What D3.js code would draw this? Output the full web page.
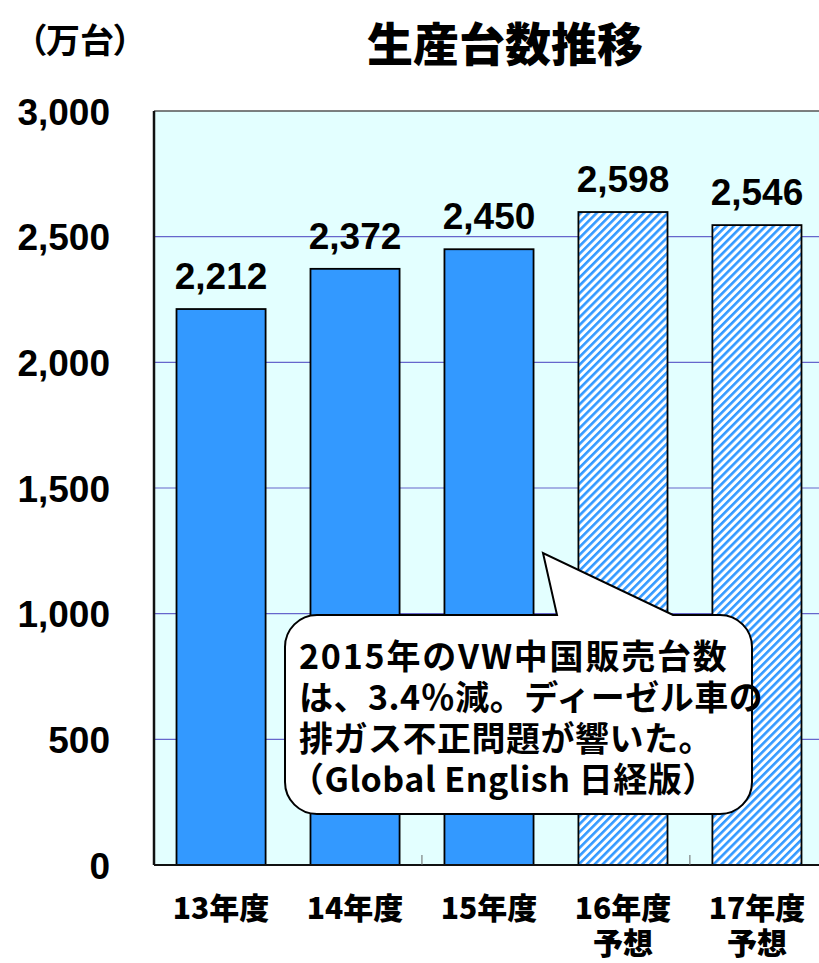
<!DOCTYPE html>
<html><head><meta charset="utf-8">
<script src="https://cdn.jsdelivr.net/npm/d3@7"></script>
<style>body{margin:0;background:#fff}svg{display:block}</style>
</head><body>
<script>
const categories = ["13年度", "14年度", "15年度", "16年度\n予想", "17年度\n予想"];
const values = [2212, 2372, 2450, 2598, 2546];
const forecast = [false, false, false, true, true];
const yTicks = [0, 500, 1000, 1500, 2000, 2500, 3000];
const title = "生産台数推移";
const unitLabel = "（万台）";
const calloutLines = ["2015年のVW中国販売台数", "は、3.4％減。ディーゼル車の", "排ガス不正問題が響いた。", "（Global English 日経版）"];

const W = 819, H = 963;
const m = {left: 154, top: 111, right: -5, bottom: 98};
const svg = d3.select("body").append("svg").attr("width", W).attr("height", H);
const font = "'Noto Sans CJK JP', sans-serif";
const latin = "'Liberation Sans', Arial, sans-serif";

const x = d3.scaleBand().domain(categories).range([m.left, W - m.right]).paddingInner(0.335).paddingOuter(0.168);
const y = d3.scaleLinear().domain([0, 3000]).range([H - m.bottom, m.top]);

const defs = svg.append("defs");
const pat = defs.append("pattern").attr("id", "hatch").attr("patternUnits", "userSpaceOnUse")
  .attr("width", 5.6).attr("height", 5.6).attr("patternTransform", "rotate(45)");
pat.append("rect").attr("width", 5.6).attr("height", 5.6).attr("fill", "#ffffff");
pat.append("rect").attr("width", 2.6).attr("height", 5.6).attr("fill", "#3399ff");

// plot background
svg.append("rect").attr("x", m.left).attr("y", m.top).attr("width", W - m.right - m.left)
  .attr("height", y(0) - m.top).attr("fill", "#e3ffff");

// gridlines
svg.append("g").selectAll("line").data(yTicks.filter(d => d > 0 && d < 3000)).join("line")
  .attr("x1", m.left).attr("x2", W).attr("y1", d => y(d)).attr("y2", d => y(d))
  .attr("stroke", "#6666cc").attr("stroke-width", 1.2);

// top border
svg.append("line").attr("x1", m.left).attr("x2", W).attr("y1", y(3000)).attr("y2", y(3000))
  .attr("stroke", "#555").attr("stroke-width", 1.5);

// y axis labels
const yAxis = d3.axisLeft(y).tickValues(yTicks).tickSize(0).tickPadding(0).tickFormat(d3.format(","));
const gy = svg.append("g").attr("transform", `translate(${m.left},0)`).call(yAxis);
gy.select(".domain").remove();
gy.selectAll("text").attr("x", -44).attr("dy", "0.36em")
  .style("font-family", latin).style("font-weight", "bold")
  .style("font-size", "37px").attr("fill", "#000").attr("text-anchor", "end");

// bars
svg.append("g").selectAll("rect").data(values).join("rect")
  .attr("x", (d, i) => x(categories[i])).attr("width", x.bandwidth())
  .attr("y", d => y(d)).attr("height", d => y(0) - y(d))
  .attr("fill", (d, i) => forecast[i] ? "url(#hatch)" : "#3399ff")
  .attr("stroke", "#000").attr("stroke-width", 1.8);

// value labels
svg.append("g").selectAll("text").data(values).join("text")
  .attr("x", (d, i) => x(categories[i]) + x.bandwidth() / 2).attr("y", d => y(d) - 20)
  .attr("text-anchor", "middle").style("font-family", latin)
  .style("font-weight", "bold").style("font-size", "37px").text(d3.format(","));

// axes lines
svg.append("line").attr("x1", m.left).attr("x2", m.left).attr("y1", m.top).attr("y2", y(0))
  .attr("stroke", "#111").attr("stroke-width", 2.5);
svg.append("line").attr("x1", m.left).attr("x2", W).attr("y1", y(0)).attr("y2", y(0))
  .attr("stroke", "#111").attr("stroke-width", 2);
// category boundary ticks
const step = x.step();
svg.append("g").selectAll("line").data([2, 4]).join("line")
  .attr("x1", d => x(categories[0]) - x.paddingOuter() * step + d * step)
  .attr("x2", d => x(categories[0]) - x.paddingOuter() * step + d * step)
  .attr("y1", y(0)).attr("y2", y(0) - 10).attr("stroke", "#666").attr("stroke-width", 1);

// x labels
const gx = svg.append("g");
categories.forEach(c => {
  const cx = x(c) + x.bandwidth() / 2;
  c.split("\n").forEach((s, k) => gx.append("text").attr("x", cx).attr("y", 919 + k * 35)
    .attr("text-anchor", "middle").style("font-family", font).style("font-weight", "900")
    .style("font-size", "30px").text(s));
});

// title
svg.append("text").attr("x", 505).attr("y", 61).attr("text-anchor", "middle")
  .style("font-family", font).style("font-weight", "900").style("font-size", "46px").text(title);
svg.append("text").attr("x", 80).attr("y", 53).attr("text-anchor", "middle")
  .style("font-family", font).style("font-weight", "bold").style("font-size", "34px")
  .style("font-feature-settings", "'palt'").text(unitLabel);

// callout
const bx0 = 285, by0 = 615, bx1 = 752, by1 = 814, r = 32;
const tip = [543, 553], ta = 557, tb = 673;
const p = d3.path();
p.moveTo(bx0 + r, by0);
p.lineTo(ta, by0); p.lineTo(tip[0], tip[1]); p.lineTo(tb, by0);
p.lineTo(bx1 - r, by0); p.arcTo(bx1, by0, bx1, by0 + r, r);
p.lineTo(bx1, by1 - r); p.arcTo(bx1, by1, bx1 - r, by1, r);
p.lineTo(bx0 + r, by1); p.arcTo(bx0, by1, bx0, by1 - r, r);
p.lineTo(bx0, by0 + r); p.arcTo(bx0, by0, bx0 + r, by0, r);
p.closePath();
svg.append("path").attr("d", p.toString()).attr("fill", "#fff").attr("stroke", "#000").attr("stroke-width", 2);
calloutLines.forEach((s, i) => svg.append("text").attr("x", i === 3 ? 290 : 299).attr("y", 669 + i * 41)
  .style("font-family", font).style("font-weight", "bold").style("font-size", "34px")
  .style("letter-spacing", i === 0 ? "1.8px" : "0.5px").text(s));
</script>
</body></html>
